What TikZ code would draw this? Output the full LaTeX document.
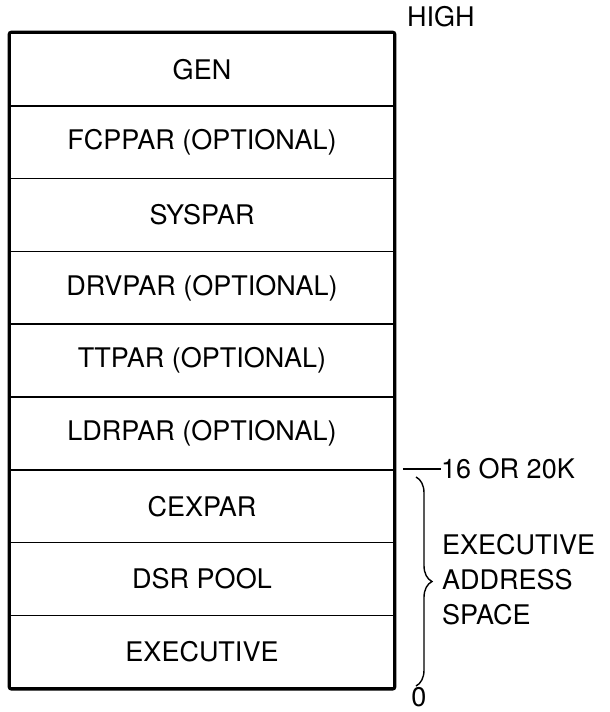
\documentclass[tikz,border=0pt]{standalone}
\usepackage{fontspec}
\setmainfont{TeX Gyre Heros}
\usetikzlibrary{decorations.pathreplacing}
\begin{document}
\begin{tikzpicture}[x=1pt,y=-1pt,
  rowbox/.style={draw, line width=1.6pt, minimum width=384pt, minimum height=72.8pt,
     inner sep=0pt, font=\fontsize{27}{32}\selectfont},
  lbl/.style={font=\fontsize{27}{35}\selectfont, inner sep=0pt}]
\useasboundingbox (0,0) rectangle (610,712);
\foreach \name/\txt [count=\i from 0] in {gen/GEN, fcp/FCPPAR (OPTIONAL), sys/SYSPAR,
   drv/DRVPAR (OPTIONAL), ttp/TTPAR (OPTIONAL), ldr/LDRPAR (OPTIONAL), cex/CEXPAR,
   dsr/DSR POOL, exe/EXECUTIVE}
  \node[rowbox] (\name) at (202, 33+36.4+\i*72.8) {\txt};
\draw[line width=3pt, rounded corners=2pt] (gen.north west) rectangle (exe.south east);
\node[lbl, anchor=west] (high) at (407,17) {HIGH};
\node[lbl, anchor=west] (k16) at (441,469) {16 OR 20K};
\coordinate (tick) at ([xshift=8pt]cex.north east);
\draw[line width=1.4pt] (tick) -- (k16.west);
\coordinate (btop) at (416,477);
\coordinate (bbot) at (416,686);
\draw[line width=1.4pt, decorate, decoration={brace, amplitude=16pt}] (btop) -- (bbot);
\node[lbl, anchor=west, align=left] (eas) at (442,580) {EXECUTIVE\\ADDRESS\\SPACE};
\node[lbl, anchor=base] (zero) at (419,706) {0};
\end{tikzpicture}
\end{document}
